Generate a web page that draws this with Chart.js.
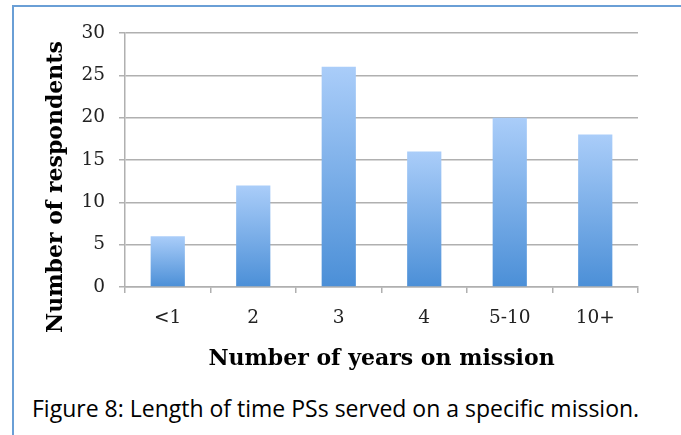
<!DOCTYPE html>
<html>
<head>
<meta charset="utf-8">
<script src="https://cdn.jsdelivr.net/npm/chart.js@4/dist/chart.umd.min.js"></script>
<style>
  html, body { margin: 0; padding: 0; background: #fff; }
  body { width: 681px; height: 435px; position: relative; overflow: hidden; }
  #frame { position: absolute; left: 12px; top: 5px; right: 0; bottom: 0;
           border-left: 2px solid #6a9fd6; border-top: 2px solid #6a9fd6; }
  #wrap { position: absolute; left: 0; top: 0; width: 681px; height: 380px; }
  #caption { position: absolute; left: 32px; top: 393px; font-family: "Open Sans", sans-serif;
             font-size: 23px; color: #000; white-space: nowrap; line-height: 30px; }
</style>
</head>
<body>
<div id="frame"></div>
<div id="wrap"><canvas id="grafico"></canvas></div>
<div id="caption">Figure 8: Length of time PSs served on a specific mission.</div>
<script>
// datos
const categorias = ['<1', '2', '3', '4', '5-10', '10+'];
const respondentes = [6, 12, 26, 16, 20, 18];
const yTicks = [0, 5, 10, 15, 20, 25, 30];

const tituloY = 'Number of respondents';
const tituloX = 'Number of years on mission';

// degradado por barra, claro arriba y oscuro abajo
function colorBarra(context) {
    const chart = context.chart;
    if (!chart.chartArea || !chart.scales.y) return '#7fb0ea';
    const y = chart.scales.y;
    const top = y.getPixelForValue(context.raw);
    const base = y.getPixelForValue(0);
    if (!isFinite(top) || top === base) return '#7fb0ea';
    const g = chart.ctx.createLinearGradient(0, top, 0, base);
    g.addColorStop(0, '#aacdf9');
    g.addColorStop(1, '#4b8fd7');
    return g;
}

// titulo vertical del eje y
const tituloYPlugin = {
    id: 'tituloY',
    afterDraw(chart) {
        const ctx = chart.ctx;
        ctx.save();
        ctx.translate(56, 187);
        ctx.rotate(-Math.PI / 2);
        ctx.font = 'bold 22px "DejaVu Serif", serif';
        ctx.fillStyle = '#000';
        ctx.textAlign = 'center';
        ctx.textBaseline = 'middle';
        ctx.fillText(tituloY, 0, 0);
        ctx.restore();
    }
};

new Chart(document.getElementById('grafico'), {
    type: 'bar',
    data: {
        labels: categorias,
        datasets: [{
            label: 'Respondents',
            data: respondentes,
            backgroundColor: colorBarra,
            borderWidth: 0,
            barPercentage: 0.4,
            categoryPercentage: 1.0
        }]
    },
    options: {
        responsive: true,
        maintainAspectRatio: false,
        animation: false,
        layout: { padding: { left: 0, top: 33, right: 43, bottom: 0 } },
        plugins: {
            legend: { display: false },
            title: { display: false },
            tooltip: { enabled: false }
        },
        scales: {
            x: {
                grid: { drawOnChartArea: false, drawTicks: true, tickLength: 6, color: '#b0b0b0', lineWidth: 1.5, offset: true },
                border: { display: true, color: '#b0b0b0', width: 1.5 },
                ticks: { color: '#222', padding: 14, font: { family: '"DejaVu Serif", serif', size: 18.5 } },
                title: { display: true, text: tituloX, color: '#000', padding: { top: 0, bottom: 8 },
                         font: { family: '"DejaVu Serif", serif', size: 22, weight: 'bold' } },
                afterFit(scale) { scale.height = 93; }
            },
            y: {
                min: 0,
                max: 30,
                afterBuildTicks(scale) { scale.ticks = yTicks.map(v => ({ value: v })); },
                grid: { color: '#b0b0b0', lineWidth: 1.5, tickLength: 6 },
                border: { display: true, color: '#b0b0b0', width: 1.5 },
                ticks: { color: '#222', padding: 14, font: { family: '"DejaVu Serif", serif', size: 18.5 } },
                afterFit(scale) { scale.width = 125; }
            }
        }
    },
    plugins: [tituloYPlugin]
});
</script>
</body>
</html>
